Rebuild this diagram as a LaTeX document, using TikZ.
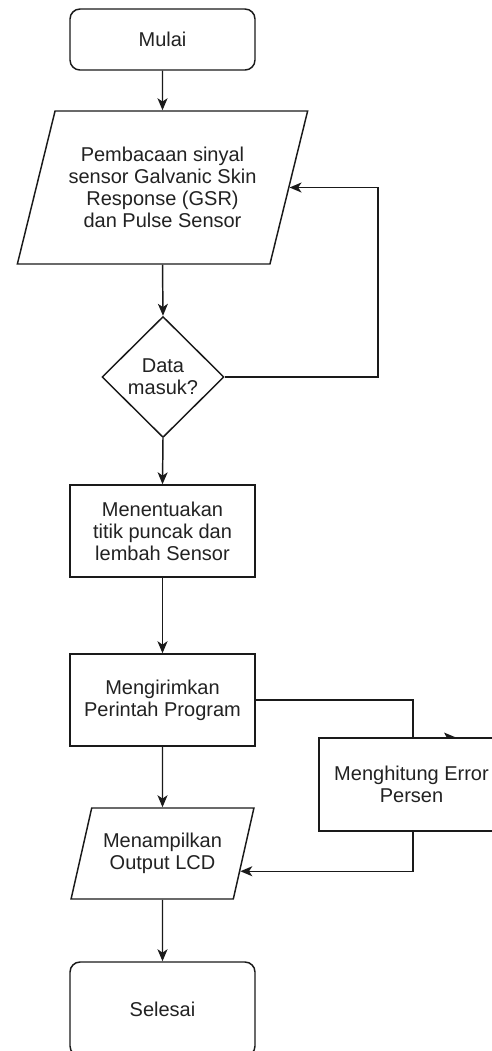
\documentclass[tikz,border=0pt]{standalone}
\usepackage{fontspec}
\setmainfont{Liberation Sans}
\usetikzlibrary{shapes.geometric,arrows.meta,calc}
\definecolor{ln}{HTML}{1A1A1A}
\definecolor{txt}{HTML}{222222}
\begin{document}
\begin{tikzpicture}[x=0.75pt,y=-0.75pt,
  every node/.style={font=\fontsize{15}{16.5}\selectfont, text=txt, align=center},
  shapeline/.style={draw=ln, line width=1.1pt, fill=white},
  term/.style={shapeline, rectangle, rounded corners=7.5pt, minimum width=138.75pt, inner sep=0pt},
  proc/.style={shapeline, rectangle, minimum width=138.75pt, minimum height=69pt, inner sep=0pt},
  io/.style={shapeline, trapezium, trapezium left angle=68.5, trapezium right angle=111.5, trapezium stretches=true, inner sep=2pt},
  dec/.style={shapeline, diamond, aspect=1, minimum width=91.5pt, minimum height=90.75pt, inner sep=0pt},
  link/.style={draw=ln, line width=1.1pt},
  conn/.style={link, -{Stealth[length=9pt,width=7.5pt,inset=2.5pt]}}
]
\useasboundingbox (0,0) rectangle (492,1051);
\clip (0,0) rectangle (492,1051);

\node[term, minimum height=45.75pt] (start) at (162.5,39.5) {Mulai};
\node[io, minimum width=218.25pt, minimum height=114.75pt] (read) at (162.5,187.5)
  {Pembacaan sinyal\\sensor Galvanic Skin\\Response (GSR)\\dan Pulse Sensor};
\node[dec] (data) at (163,377) {Data\\masuk?};
\node[proc] (peak) at (162.5,531) {Menentuakan\\titik puncak dan\\lembah Sensor};
\node[proc] (send) at (162.5,700) {Mengirimkan\\Perintah Program};
\fill[ln] (444,732.5) -- (456,737.5) -- (447,738) -- cycle;
\node[proc, minimum height=69.75pt] (err) at (411.5,784.5) {Menghitung Error\\Persen};
\node[io, minimum width=137.25pt, minimum height=68.25pt] (lcd) at (162.5,853.5) {Menampilkan\\Output LCD};
\node[term, minimum height=70.5pt] (end) at (162.5,1009) {Selesai};

\draw[conn] (start.south) -- (read.north);
\draw[conn] (read.south) -- (data.north);
\coordinate (l1) at (378,377);
\draw[conn] (data.east) -- (l1) |- (read.east);
\draw[conn] (data.south) -- (peak.north);
\draw[conn] (peak.south) -- (send.north);
\draw[conn] (send.south) -- (lcd.north);
\draw[conn] (lcd.south) -- (end.north);
\coordinate (k1) at (413,700);
\draw[link] (send.east) -- (k1) -- (k1 |- err.north);
\coordinate (k2) at ($(lcd.top right corner)!0.692!(lcd.bottom right corner)$);
\draw[conn] (k1 |- err.south) |- (k2);
\end{tikzpicture}
\end{document}
